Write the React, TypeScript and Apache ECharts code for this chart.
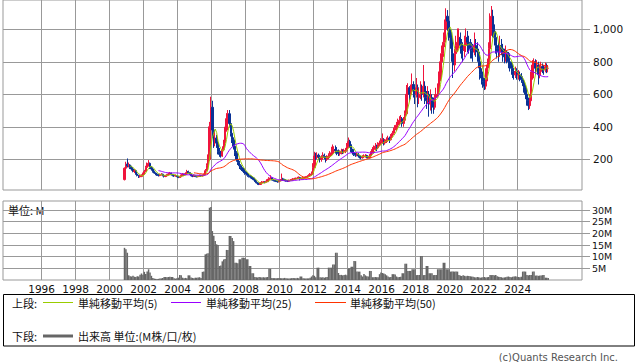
import React, { useEffect, useRef } from "react";
import * as echarts from "echarts";

// Monthly bars, first bar = November 2000
const START_YEAR = 2000;
const START_MONTH = 11;

const OPEN = [
  75, 145,
  170, 160, 165, 150, 140, 125, 130, 110, 100, 92, 95, 100,
  110, 125, 150, 165, 175, 150, 140, 125, 115, 110, 105, 100,
  105, 108, 100, 95, 98, 105, 110, 115, 105, 100, 98, 100,
  95, 88, 92, 100, 108, 105, 112, 125, 118, 110, 100, 95,
  98, 95, 93, 95, 100, 98, 100, 105, 130, 160, 200, 400,
  520, 380, 300, 330, 300, 250, 230, 220, 260, 300, 380, 450,
  480, 420, 360, 320, 280, 240, 200, 180, 160, 150, 140, 125,
  115, 110, 100, 95, 90, 85, 75, 65, 55, 48, 45, 55,
  60, 60, 58, 62, 75, 80, 85, 75, 70, 68, 65, 62,
  68, 72, 80, 75, 70, 68, 65, 70, 72, 75, 78, 80,
  82, 85, 88, 80, 82, 85, 88, 90, 95, 100, 105, 110,
  150, 220, 210, 225, 215, 200, 210, 225, 215, 200, 210, 220,
  230, 240, 250, 260, 255, 245, 235, 240, 250, 245, 250, 255,
  280, 310, 290, 260, 240, 230, 225, 230, 220, 215, 210, 215,
  220, 220, 215, 210, 220, 240, 260, 270, 280, 270, 290, 300,
  310, 320, 300, 310, 320, 330, 320, 340, 360, 380, 390, 410,
  430, 440, 450, 420, 440, 480, 600, 640, 600, 620, 660, 620,
  600, 640, 580, 600, 620, 600, 650, 580, 560, 600, 540, 580,
  560, 520, 580, 600, 620, 700, 800, 850, 920, 1000, 1080, 1050,
  980, 950, 850, 780, 850, 900, 920, 950, 900, 880, 870, 900,
  950, 920, 900, 880, 870, 860, 900, 880, 860, 800, 720, 700,
  680, 650, 700, 780, 880, 1000, 1080, 1000, 950, 900, 880, 860,
  900, 880, 850, 830, 860, 850, 800, 780, 760, 740, 720, 740,
  720, 720, 700, 690, 680, 640, 600, 560, 530, 560, 700, 780,
  800, 760, 780, 720, 740, 770, 760, 750, 770, 760,
];

const CLOSE = [
  145, 170,
  160, 165, 150, 140, 125, 130, 110, 100, 92, 95, 100, 110,
  125, 150, 165, 175, 150, 140, 125, 115, 110, 105, 100, 105,
  108, 100, 95, 98, 105, 110, 115, 105, 100, 98, 100, 95,
  88, 92, 100, 108, 105, 112, 125, 118, 110, 100, 95, 98,
  95, 93, 95, 100, 98, 100, 105, 130, 160, 200, 400, 520,
  380, 300, 330, 300, 250, 230, 220, 260, 300, 380, 450, 480,
  420, 360, 320, 280, 240, 200, 180, 160, 150, 140, 125, 115,
  110, 100, 95, 90, 85, 75, 65, 55, 48, 45, 55, 60,
  60, 58, 62, 75, 80, 85, 75, 70, 68, 65, 62, 68,
  72, 80, 75, 70, 68, 65, 70, 72, 75, 78, 80, 82,
  85, 88, 80, 82, 85, 88, 90, 95, 100, 105, 110, 150,
  220, 210, 225, 215, 200, 210, 225, 215, 200, 210, 220, 230,
  240, 250, 260, 255, 245, 235, 240, 250, 245, 250, 255, 280,
  310, 290, 260, 240, 230, 225, 230, 220, 215, 210, 215, 220,
  220, 215, 210, 220, 240, 260, 270, 280, 270, 290, 300, 310,
  320, 300, 310, 320, 330, 320, 340, 360, 380, 390, 410, 430,
  440, 450, 420, 440, 480, 600, 640, 600, 620, 660, 620, 600,
  640, 580, 600, 620, 600, 650, 580, 560, 600, 540, 580, 560,
  520, 580, 600, 620, 700, 800, 850, 920, 1000, 1080, 1050, 980,
  950, 850, 780, 850, 900, 920, 950, 900, 880, 870, 900, 950,
  920, 900, 880, 870, 860, 900, 880, 860, 800, 720, 700, 680,
  650, 700, 780, 880, 1000, 1080, 1000, 950, 900, 880, 860, 900,
  880, 850, 830, 860, 850, 800, 780, 760, 740, 720, 740, 720,
  720, 700, 690, 680, 640, 600, 560, 530, 560, 700, 780, 800,
  760, 780, 720, 740, 770, 760, 750, 770, 760, 760,
];

const HIGH = [
  150, 185,
  205, 180, 170, 160, 150, 140, 135, 115, 105, 102, 108, 118,
  135, 160, 180, 195, 180, 158, 145, 130, 120, 115, 110, 112,
  115, 112, 104, 104, 110, 118, 122, 118, 110, 106, 106, 103,
  98, 98, 106, 115, 112, 120, 135, 130, 122, 114, 104, 104,
  102, 100, 100, 106, 104, 106, 112, 140, 175, 230, 430, 585,
  560, 420, 370, 350, 310, 270, 250, 280, 320, 400, 484, 503,
  503, 440, 380, 335, 290, 250, 210, 190, 170, 160, 148, 133,
  125, 118, 108, 102, 96, 90, 80, 70, 60, 52, 60, 66,
  66, 64, 68, 80, 90, 102, 88, 78, 74, 72, 68, 72,
  78, 112, 86, 80, 74, 72, 75, 78, 80, 84, 86, 88,
  92, 95, 92, 88, 90, 94, 96, 102, 108, 115, 125, 176,
  246, 240, 243, 235, 220, 225, 243, 235, 220, 225, 237, 250,
  277, 291, 280, 285, 275, 260, 255, 265, 262, 265, 270, 300,
  334, 320, 295, 265, 248, 240, 242, 238, 228, 222, 225, 230,
  232, 228, 225, 232, 250, 275, 285, 300, 290, 305, 315, 330,
  359, 330, 325, 335, 345, 340, 355, 375, 395, 410, 430, 450,
  465, 472, 460, 460, 500, 657, 668, 650, 660, 728, 680, 640,
  700, 660, 640, 680, 660, 780, 680, 620, 650, 620, 630, 600,
  580, 600, 640, 667, 740, 852, 900, 980, 1060, 1129, 1118, 1070,
  1000, 975, 900, 880, 960, 1005, 1005, 980, 940, 920, 960, 1005,
  990, 960, 940, 920, 910, 980, 940, 920, 880, 810, 760, 740,
  700, 760, 820, 920, 1098, 1143, 1120, 1030, 990, 940, 920, 960,
  940, 910, 880, 900, 872, 860, 820, 800, 790, 760, 770, 760,
  749, 740, 730, 710, 690, 660, 620, 580, 600, 740, 810, 821,
  815, 810, 800, 780, 800, 790, 780, 795, 790, 780,
];

const LOW = [
  70, 135,
  150, 150, 140, 130, 120, 115, 105, 95, 85, 88, 90, 95,
  105, 120, 145, 155, 140, 130, 118, 110, 102, 98, 94, 96,
  100, 95, 88, 90, 94, 100, 105, 100, 95, 92, 93, 90,
  84, 85, 90, 96, 100, 102, 108, 112, 105, 96, 90, 92,
  90, 88, 89, 92, 93, 94, 97, 102, 125, 150, 190, 380,
  330, 270, 280, 270, 230, 215, 210, 215, 250, 290, 370, 430,
  400, 340, 300, 260, 220, 185, 165, 140, 135, 128, 115, 105,
  100, 92, 88, 82, 78, 70, 60, 50, 43, 41, 42, 50,
  54, 52, 53, 60, 70, 76, 70, 64, 62, 60, 56, 58,
  64, 68, 70, 65, 62, 60, 62, 66, 68, 70, 72, 76,
  78, 80, 70, 75, 78, 80, 83, 85, 90, 95, 100, 105,
  145, 195, 200, 195, 180, 185, 200, 200, 180, 190, 200, 210,
  220, 230, 240, 235, 225, 220, 222, 230, 232, 235, 238, 248,
  270, 270, 245, 228, 220, 215, 218, 210, 205, 200, 204, 208,
  210, 206, 205, 206, 215, 235, 250, 255, 250, 262, 280, 290,
  295, 285, 290, 300, 310, 300, 315, 335, 350, 365, 375, 400,
  410, 425, 400, 400, 430, 470, 580, 560, 570, 600, 580, 540,
  580, 520, 540, 570, 560, 580, 540, 510, 540, 462, 500, 480,
  480, 505, 560, 580, 600, 680, 780, 830, 890, 970, 990, 930,
  880, 800, 700, 740, 820, 860, 880, 850, 820, 800, 830, 860,
  860, 850, 820, 820, 800, 840, 830, 800, 760, 690, 660, 640,
  626, 630, 680, 760, 860, 960, 950, 900, 850, 820, 800, 830,
  840, 800, 790, 800, 790, 760, 740, 720, 700, 690, 700, 690,
  690, 680, 670, 650, 610, 570, 530, 503, 510, 550, 690, 740,
  720, 740, 660, 698, 720, 730, 720, 735, 730, 735,
];

// Volume, millions
const VOLUME = [
  13.8, 13.2,
  11.7, 2.0, 1.6, 1.5, 1.8, 1.4, 1.3, 1.6, 1.5, 2.3, 2.8, 2.2,
  3.5, 2.6, 3.6, 4.6, 3.2, 1.8, 0.9, 0.6, 0.5, 0.4, 0.5, 0.6,
  0.7, 0.9, 1.3, 1.3, 1.2, 1.3, 1.4, 1.3, 1.3, 0.8, 0.6, 0.7,
  1.0, 2.1, 2.0, 1.0, 0.8, 0.9, 0.8, 2.0, 2.0, 1.1, 0.9, 0.8,
  1.0, 1.0, 1.1, 1.2, 0.9, 3.5, 3.6, 11.0, 11.3, 11.5, 31.0, 31.3,
  21.0, 19.0, 16.7, 15.3, 15.0, 6.0, 6.2, 8.0, 8.8, 9.0, 12.9, 12.9,
  18.9, 18.9, 18.0, 16.7, 7.4, 7.4, 7.2, 8.9, 8.9, 9.6, 9.6, 9.4,
  8.9, 8.9, 6.0, 6.0, 2.9, 2.9, 1.3, 1.2, 1.1, 1.3, 1.2, 1.1,
  1.2, 1.1, 1.2, 1.3, 4.8, 4.8, 0.9, 0.8, 0.8, 0.7, 0.8, 0.9,
  0.8, 0.7, 0.8, 0.9, 0.8, 0.7, 0.6, 0.7, 0.8, 0.9, 0.8, 0.8,
  0.9, 0.8, 1.5, 1.5, 0.8, 0.7, 0.6, 0.7, 0.7, 1.0, 1.5, 2.0,
  1.8, 1.2, 5.3, 5.3, 1.2, 1.1, 1.2, 1.0, 1.2, 1.3, 5.3, 5.3,
  5.3, 6.7, 6.7, 11.7, 11.7, 3.0, 2.1, 2.2, 2.0, 2.1, 2.3, 2.0,
  5.0, 5.0, 5.7, 5.7, 8.1, 8.1, 3.6, 3.6, 3.6, 2.0, 1.5, 2.6,
  2.0, 1.6, 1.5, 3.9, 3.9, 1.2, 1.2, 1.3, 1.2, 1.2, 2.5, 3.2,
  3.0, 2.8, 2.5, 2.0, 1.5, 1.2, 1.3, 2.5, 2.5, 2.4, 1.5, 1.2,
  1.3, 1.4, 2.9, 2.9, 7.0, 7.0, 3.9, 3.9, 3.9, 4.6, 4.6, 4.6,
  2.1, 2.1, 2.1, 10.3, 10.3, 2.1, 2.1, 6.0, 6.0, 2.9, 2.9, 2.9,
  2.1, 2.1, 2.1, 4.6, 4.6, 4.6, 4.6, 7.4, 7.4, 4.6, 4.6, 4.6,
  3.6, 3.6, 3.6, 3.6, 3.6, 3.6, 2.1, 1.9, 1.7, 2.0, 1.8, 1.6,
  1.8, 1.7, 1.6, 1.5, 1.4, 1.2, 1.1, 1.3, 1.2, 1.0, 1.1, 1.2,
  1.3, 1.1, 1.2, 1.3, 2.1, 2.1, 2.1, 2.0, 2.1, 1.6, 1.4, 1.3,
  1.2, 1.0, 1.1, 1.2, 1.4, 1.5, 1.3, 1.2, 1.4, 1.5, 1.6, 1.4,
  1.3, 1.2, 1.4, 3.6, 3.6, 3.6, 2.1, 2.0, 2.1, 2.1, 3.6, 3.6,
  1.9, 1.9, 1.8, 1.9, 1.9, 2.1, 2.1, 1.0, 1.0, 0.9,
];

const YEAR_TICKS = [1996, 1998, 2000, 2002, 2004, 2006, 2008, 2010, 2012, 2014, 2016, 2018, 2020, 2022, 2024];
const PRICE_TICKS = [200, 400, 600, 800, 1000];
const VOLUME_TICKS = [5, 10, 15, 20, 25, 30];
const MA_PERIODS = [5, 25, 50];
const MA_COLORS = ["#99cc00", "#9900ff", "#ff3300"];
const MA_LABELS = ["単純移動平均(5)", "単純移動平均(25)", "単純移動平均(50)"];

const X_MIN = 1993.73;
const X_MAX = 2027.78;

function monthTime(i: number) {
  return START_YEAR + (START_MONTH - 1 + i + 0.5) / 12;
}

function sma(values: number[], n: number) {
  const out: [number, number][] = [];
  let sum = 0;
  for (let i = 0; i < values.length; i++) {
    sum += values[i];
    if (i >= n) sum -= values[i - n];
    if (i >= n - 1) out.push([monthTime(i), +(sum / n).toFixed(2)]);
  }
  return out;
}

const CJK = "'Noto Sans CJK JP', 'Noto Sans', sans-serif";
const LAT = "'DejaVu Sans', sans-serif";

export default function App() {
  const ref = useRef<HTMLDivElement>(null);
  useEffect(() => {
    if (!ref.current) return;
    const chart = echarts.init(ref.current, undefined, { renderer: "svg" });
    const candles = OPEN.map((o, i) => [monthTime(i), o, CLOSE[i], LOW[i], HIGH[i]]);
    const vols = VOLUME.map((v, i) => [monthTime(i), v]);
    const grey = "#999999";
    const legendY1 = 302.5;
    const legendY2 = 336;
    const lineSeries = MA_PERIODS.map((p, k) => ({
      type: "line",
      xAxisIndex: 0,
      yAxisIndex: 0,
      data: sma(CLOSE, p),
      showSymbol: false,
      symbol: "none",
      lineStyle: { color: MA_COLORS[k], width: 1 },
      z: 3,
    }));
    const legendXs = [[43, 73, 78], [171, 201, 206], [315, 346, 350]];
    const option: any = {
      animation: false,
      backgroundColor: "#ffffff",
      grid: [
        { left: 3, top: 0, width: 579, height: 190, show: true, borderColor: grey, borderWidth: 1, backgroundColor: "transparent" },
        { left: 3, top: 201, width: 579, height: 79, show: true, borderColor: grey, borderWidth: 1, backgroundColor: "transparent" },
      ],
      xAxis: [
        {
          type: "value", gridIndex: 0, min: X_MIN, max: X_MAX,
          axisLine: { show: false },
          axisTick: { show: false, customValues: YEAR_TICKS },
          axisLabel: { show: false, customValues: YEAR_TICKS },
          splitLine: { show: true, lineStyle: { color: grey, width: 1 } },
        },
        {
          type: "value", gridIndex: 1, min: X_MIN, max: X_MAX,
          axisLine: { show: false },
          axisTick: { show: false, customValues: YEAR_TICKS },
          axisLabel: {
            show: true, customValues: YEAR_TICKS, margin: 3, fontSize: 10.5,
            fontFamily: LAT, color: "#111", formatter: (v: number) => String(v),
          },
          splitLine: { show: true, lineStyle: { color: grey, width: 1 } },
        },
      ],
      yAxis: [
        {
          type: "value", gridIndex: 0, position: "right", min: 11, max: 1180,
          axisLine: { show: false },
          axisTick: { show: true, length: 8, lineStyle: { color: grey }, customValues: PRICE_TICKS },
          axisLabel: {
            customValues: PRICE_TICKS, margin: 11, fontSize: 10.5, fontFamily: LAT, color: "#111",
            formatter: (v: number) => v.toLocaleString("en-US"),
          },
          splitLine: { show: true, lineStyle: { color: grey, width: 1 } },
        },
        {
          type: "value", gridIndex: 1, position: "right", min: 0, max: 33.9,
          axisLine: { show: false },
          axisTick: { show: true, length: 8, lineStyle: { color: grey }, customValues: VOLUME_TICKS },
          axisLabel: {
            customValues: VOLUME_TICKS, margin: 10, fontSize: 9.5, fontFamily: LAT, color: "#111",
            formatter: (v: number) => v + "M",
          },
          splitLine: { show: true, lineStyle: { color: grey, width: 1 } },
        },
      ],
      series: [
        {
          type: "candlestick",
          xAxisIndex: 0,
          yAxisIndex: 0,
          dimensions: ["t", "open", "close", "lowest", "highest"],
          encode: { x: "t", y: ["open", "close", "lowest", "highest"] },
          data: candles,
          barWidth: 1.8,
          itemStyle: {
            color: "#f0143c", color0: "#0a3296",
            borderColor: "#f0143c", borderColor0: "#0a3296", borderWidth: 1,
          },
          z: 2,
        },
        ...lineSeries,
        {
          type: "bar",
          xAxisIndex: 1,
          yAxisIndex: 1,
          data: vols,
          barWidth: 1.5,
          itemStyle: { color: "#666666" },
        },
      ],
      graphic: [
        { type: "text", left: 8, top: 204, style: { text: "単位: M", fontSize: 11, fontFamily: CJK, fill: "#111" } },
        { type: "rect", shape: { x: 3.5, y: 294.5, width: 631, height: 51.5 }, style: { fill: "none", stroke: "#000", lineWidth: 1 } },
        { type: "text", x: 12, y: legendY1, style: { text: "上段:", fontSize: 11, fontFamily: CJK, fill: "#111", textVerticalAlign: "middle" } },
        ...MA_LABELS.flatMap((lab, k) => [
          { type: "line", shape: { x1: legendXs[k][0], y1: legendY1, x2: legendXs[k][1], y2: legendY1 }, style: { stroke: MA_COLORS[k], lineWidth: 1 } },
          { type: "text", x: legendXs[k][2], y: legendY1, style: { text: lab, fontSize: 11, fontFamily: CJK, fill: "#111", textVerticalAlign: "middle" } },
        ]),
        { type: "text", x: 12, y: legendY2, style: { text: "下段:", fontSize: 11, fontFamily: CJK, fill: "#111", textVerticalAlign: "middle" } },
        { type: "line", shape: { x1: 43, y1: legendY2, x2: 73, y2: legendY2 }, style: { stroke: "#666666", lineWidth: 3 } },
        { type: "text", x: 78, y: legendY2, style: { text: "出来高 単位:(M株/口/枚)", fontSize: 11, fontFamily: CJK, fill: "#111", textVerticalAlign: "middle" } },
        { type: "text", x: 618, y: 357, style: { text: "(c)Quants Research Inc.", fontSize: 10, fontFamily: LAT, fill: "#555", textAlign: "right", textVerticalAlign: "middle" } },
      ],
    };
    chart.setOption(option);
    return () => chart.dispose();
  }, []);
  return <div ref={ref} style={{ position: "absolute", left: 0, top: 0, width: 638, height: 362 }} />;
}
